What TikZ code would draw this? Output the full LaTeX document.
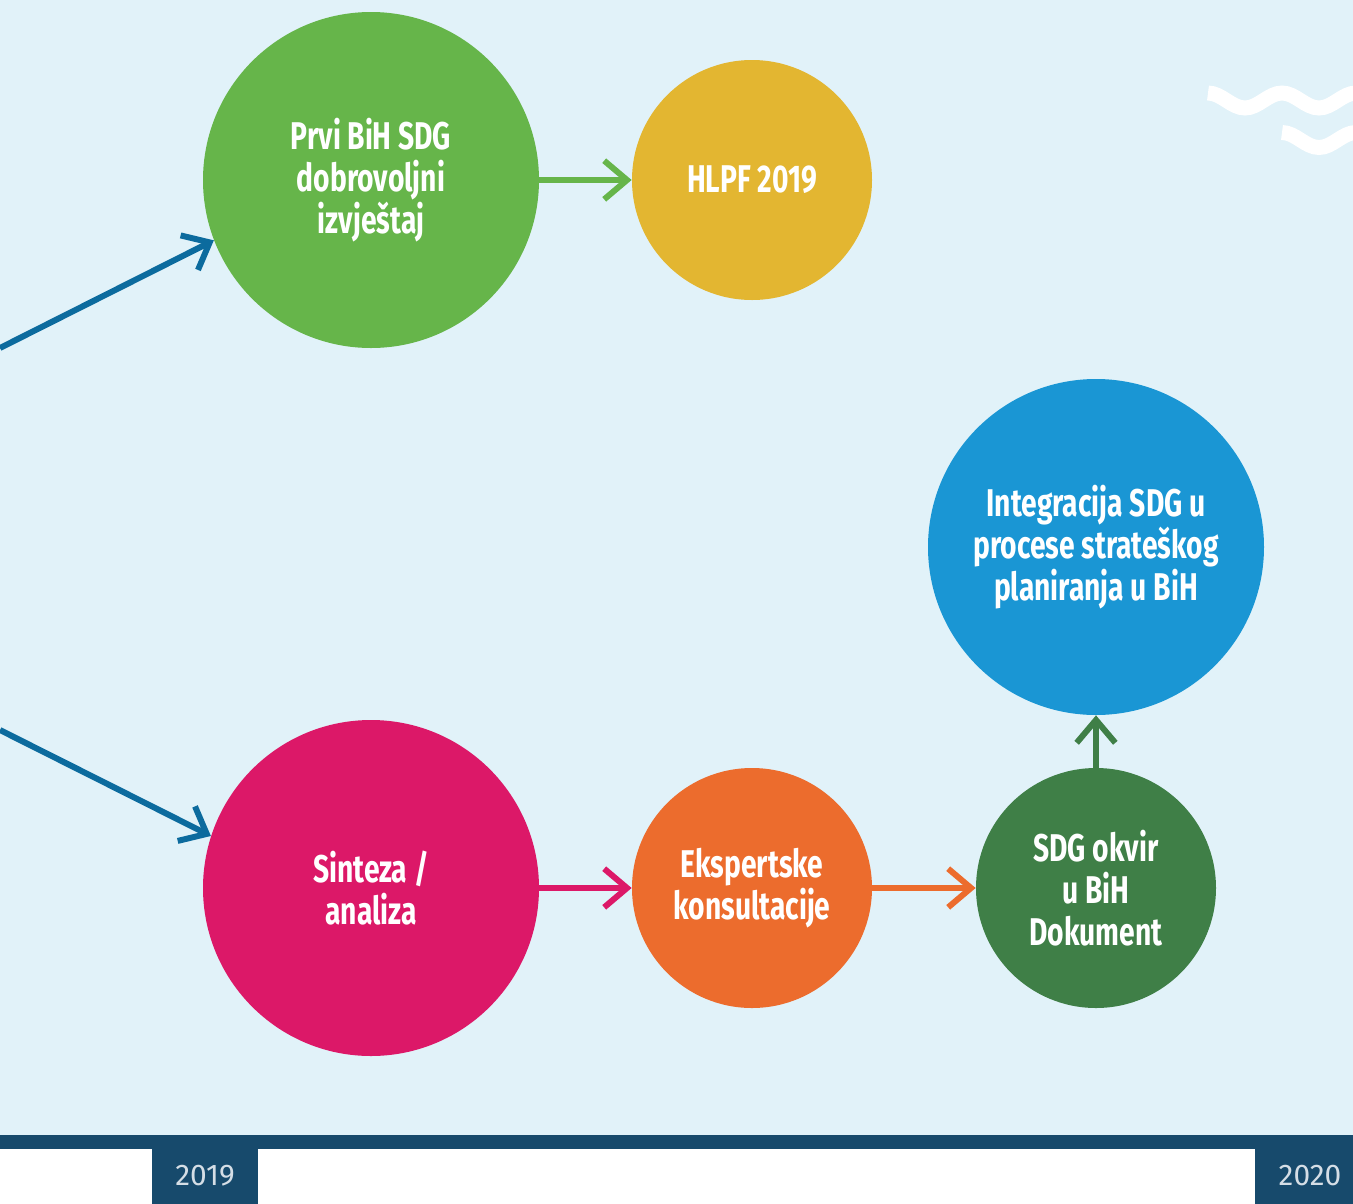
\documentclass[tikz,border=0pt]{standalone}
\usepackage{fontspec}
\setmainfont{Fira Sans}
\newfontfamily\condfont[FakeStretch=0.73]{Fira Sans}
\usetikzlibrary{arrows.meta}
\definecolor{bgblue}{HTML}{E1F2F9}
\definecolor{navy}{HTML}{174A6C}
\definecolor{cgreen}{HTML}{66B54A}
\definecolor{cyellow}{HTML}{E3B631}
\definecolor{cblue}{HTML}{1A96D4}
\definecolor{cmagenta}{HTML}{DC1868}
\definecolor{corange}{HTML}{EC6C2D}
\definecolor{cdkgreen}{HTML}{3F7F47}
\definecolor{arrblue}{HTML}{0C6B9E}
\definecolor{yeartext}{HTML}{D5DEE6}
\tikzset{
  bubble/.style={circle, inner sep=0pt, text=white, align=center,
    font=\condfont\bfseries\fontsize{22}{23.8}\selectfont},
  conn/.style={line width=3.4pt, -{Straight Barb[length=13pt,width=22pt,line width=3.4pt]}},
  wave/.style={draw=white, line width=8.5pt},
  yearlbl/.style={text=yeartext, font=\fontsize{17}{20}\selectfont}
}
\begin{document}
\begin{tikzpicture}[x=0.02cm,y=-0.02cm]
\useasboundingbox (0,0) rectangle (1353,1204);
\clip (0,0) rectangle (1353,1204);
% background
\fill[bgblue] (0,0) rectangle (1353,1135);
\fill[white] (0,1149) rectangle (1353,1204);
\fill[navy] (0,1135) rectangle (1353,1149);
\fill[navy] (152,1149) rectangle (258,1204);
\fill[navy] (1255,1149) rectangle (1353,1204);
\node[yearlbl] (y2019) at (205,1176) {2019};
\node[yearlbl] (y2020) at (1310,1176) {2020};
% waves
\draw[wave] (1208,93) cos (1226.5,100.5) sin (1245,108) cos (1263.5,100.5) sin (1282,93)
  cos (1300.5,100.5) sin (1319,108) cos (1337.5,100.5) sin (1356,93) cos (1374.5,100.5);
\draw[wave] (1282,132.5) cos (1300.5,140) sin (1319,147.5) cos (1337.5,140) sin (1356,132.5) cos (1374.5,140);
% circles
\node[bubble, fill=cgreen, minimum size=336*0.02cm] (prvi) at (371,180) {Prvi BiH SDG\\dobrovoljni\\izvještaj};
\node[bubble, fill=cyellow, minimum size=240*0.02cm] (hlpf) at (752,180) {HLPF 2019};
\node[bubble, fill=cblue, minimum size=336*0.02cm] (integ) at (1096,547) {Integracija SDG u\\procese strateškog\\planiranja u BiH};
\node[bubble, fill=cmagenta, minimum size=336*0.02cm] (sint) at (371,888) {Sinteza /\\analiza};
\node[bubble, fill=corange, minimum size=240*0.02cm] (eksp) at (752,888) {Ekspertske\\konsultacije};
\node[bubble, fill=cdkgreen, minimum size=240*0.02cm] (okvir) at (1096,888) {SDG okvir\\u BiH\\Dokument};
% connectors
\coordinate (inA) at (0,348);
\coordinate (inB) at (0,730);
\draw[conn, arrblue] (inA) -- (prvi.201);
\draw[conn, arrblue] (inB) -- (sint.162);
\draw[conn, cgreen] (prvi) -- (hlpf);
\draw[conn, cmagenta] (sint) -- (eksp);
\draw[conn, corange] (eksp) -- (okvir);
\draw[conn, cdkgreen] (okvir) -- (integ);
\end{tikzpicture}
\end{document}
